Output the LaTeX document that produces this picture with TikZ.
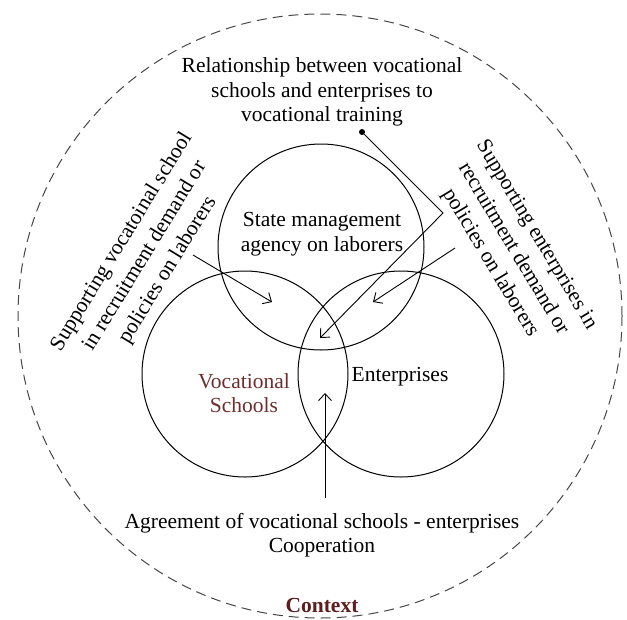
\documentclass[tikz,border=0pt]{standalone}
\usepackage{fontspec}
\setmainfont{Liberation Serif}
\usetikzlibrary{arrows.meta}
\definecolor{vocred}{RGB}{110,46,46}
\definecolor{ctxred}{RGB}{92,30,30}
\definecolor{dashgray}{RGB}{70,70,70}
\begin{document}
\begin{tikzpicture}[x=1pt,y=-1pt,
  venn/.style={draw, circle, line width=1pt, minimum size=206pt, inner sep=0pt},
  lbl/.style={align=center, font=\fontsize{21.5}{24.5}\selectfont, inner sep=0pt},
  rlbl/.style={align=center, font=\fontsize{21.5}{27}\selectfont, inner sep=0pt},
  arr/.style={-{Straight Barb[length=7pt,width=13pt]}, line width=0.9pt},
  outer/.style={draw=dashgray, line width=1pt, dash pattern=on 10pt off 6pt},
]
\useasboundingbox (0,0) rectangle (627,619);
% outer context circle
\node[outer, circle, minimum size=604pt, inner sep=0pt] (ctxc) at (320,316) {};
% venn circles
\node[venn] (top) at (321,247) {};
\node[venn] (left) at (245,374) {};
\node[venn] (right) at (401,374) {};
% texts
\node[lbl] (rel) at (322,92) {Relationship between vocational\\schools and enterprises to\\vocational training};
\node[lbl] (state) at (322,234) {State management\\agency on laborers};
\node[lbl, text=vocred] (voc) at (244,393) {Vocational\\Schools};
\node[lbl] (ent) at (400,377) {Enterprises};
\node[lbl] (agree) at (322,535) {Agreement of vocational schools - enterprises\\Cooperation};
\node[lbl, text=ctxred, font=\fontsize{21.5}{24.5}\selectfont\bfseries] (ctx) at (322,605) {Context};
\node[rlbl, rotate=58.5] (supv) at (145,256) {Supporting vocatoinal school\\in recruitment demand or\\policies on laborers};
\node[rlbl, rotate=-59] (supe) at (513,249) {Supporting enterprises in\\recruitment demand or\\policies on laborers};
% arrow anchors
\node[circle, fill, inner sep=0pt, minimum size=6pt] (dot) at (362,132) {};
\coordinate (bend) at (443,213);
\coordinate (tipc) at (320,338);
\coordinate (ls) at (193,255);
\coordinate (lt) at (272,302);
\coordinate (rs) at (455,248);
\coordinate (rt) at (373,302);
\coordinate (bs) at (325,498);
\coordinate (bt) at (325,393);
% connectors
\draw[arr] (dot.center) -- (bend) -- (tipc);
\draw[arr] (ls) -- (lt);
\draw[arr] (rs) -- (rt);
\draw[arr] (bs) -- (bt);
\end{tikzpicture}
\end{document}
